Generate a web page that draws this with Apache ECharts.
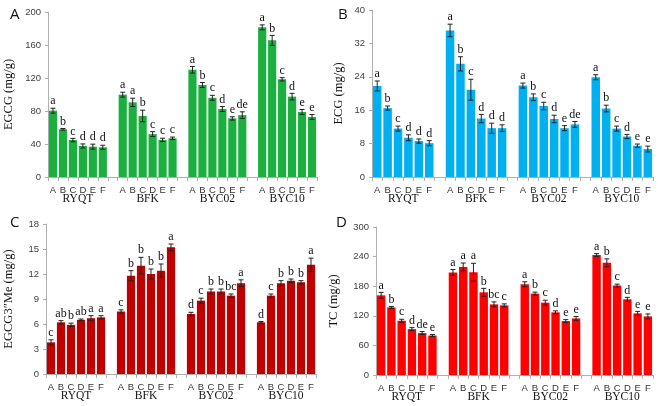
<!DOCTYPE html>
<html>
<head>
<meta charset="utf-8">
<script src="https://cdn.jsdelivr.net/npm/echarts@6/dist/echarts.min.js"></script>
<style>
html,body{margin:0;padding:0;background:#fff;}
#chart{width:658px;height:406px;}
</style>
</head>
<body>
<div id="chart"></div>
<script>
// ---- data ----
const treatments = ['A', 'B', 'C', 'D', 'E', 'F'];
const groups = ['RYQT', 'BFK', 'BYC02', 'BYC10'];

const egcgValues = [
  [80.4, 57.8, 44.8, 37.6, 36.8, 36],
  [99.8, 90.5, 74, 52, 45, 46.9],
  [130, 111.5, 96, 82.4, 71, 75],
  [181.4, 165.7, 118.4, 97.4, 78.8, 72.7]
];
const egcgErrors = [
  [3, 1, 2, 2.5, 3, 2.5],
  [3, 5, 7, 3, 2, 1.5],
  [4, 3, 3, 3, 2, 4],
  [3, 6, 2, 4, 3, 3]
];
const egcgLetters = [
  ['a', 'b', 'c', 'd', 'd', 'd'],
  ['a', 'a', 'b', 'c', 'c', 'c'],
  ['a', 'b', 'c', 'd', 'e', 'de'],
  ['a', 'b', 'c', 'd', 'e', 'e']
];

const ecgValues = [
  [21.8, 16.5, 11.6, 9.4, 8.6, 8.1],
  [35.1, 27.1, 20.9, 14, 11.7, 11.7],
  [21.9, 19.1, 17, 13.9, 11.7, 12.6],
  [23.9, 16.4, 11.6, 9.7, 7.5, 6.7]
];
const ecgErrors = [
  [1.2, 0.5, 0.6, 0.7, 0.5, 0.6],
  [1.5, 1.7, 2.5, 1.0, 1.2, 0.8],
  [0.6, 0.8, 0.9, 0.9, 0.6, 0.7],
  [0.6, 0.8, 0.6, 0.5, 0.4, 0.7]
];
const ecgLetters = [
  ['a', 'b', 'c', 'd', 'd', 'd'],
  ['a', 'b', 'c', 'd', 'd', 'd'],
  ['a', 'b', 'c', 'd', 'e', 'de'],
  ['a', 'b', 'c', 'd', 'e', 'e']
];

const meValues = [
  [3.8, 6.2, 5.9, 6.5, 6.7, 6.8],
  [7.5, 11.8, 13.0, 12.0, 12.4, 15.2],
  [7.2, 8.8, 9.9, 9.9, 9.4, 10.9],
  [6.2, 9.4, 10.9, 11.2, 11.0, 13.1]
];
const meErrors = [
  [0.3, 0.2, 0.2, 0.1, 0.3, 0.2],
  [0.2, 0.6, 1.0, 0.6, 0.8, 0.4],
  [0.2, 0.3, 0.3, 0.3, 0.2, 0.4],
  [0.1, 0.2, 0.3, 0.2, 0.2, 0.8]
];
const meLetters = [
  ['c', 'ab', 'b', 'ab', 'a', 'a'],
  ['c', 'b', 'b', 'b', 'b', 'a'],
  ['d', 'c', 'b', 'b', 'bc', 'a'],
  ['d', 'c', 'b', 'b', 'b', 'a']
];

const tcValues = [
  [161.5, 137, 110, 93, 85, 80],
  [207.7, 219, 208.4, 167.6, 143.2, 141.2],
  [184, 165, 146.6, 127, 109.3, 114.7],
  [243, 227.4, 181.2, 153.4, 124.9, 118.8]
];
const tcErrors = [
  [6, 2, 3, 3, 3, 2],
  [6, 8, 18, 8, 5, 3],
  [5, 3, 5, 3, 3, 4],
  [3, 8, 3, 4, 4, 5]
];
const tcLetters = [
  ['a', 'b', 'c', 'd', 'de', 'e'],
  ['a', 'a', 'a', 'b', 'bc', 'c'],
  ['a', 'b', 'c', 'd', 'e', 'e'],
  ['a', 'b', 'c', 'd', 'e', 'e']
];

// ---- build ----
const slotsPerGroup = 7;
const nSlots = groups.length * slotsPerGroup - 1;
const categoryData = [];
for (let g = 0; g < groups.length; g++) {
  treatments.forEach(t => categoryData.push(t));
  if (g < groups.length - 1) categoryData.push('');
}
const groupCenters = {};
groups.forEach((name, g) => { groupCenters[g * slotsPerGroup + 3] = name; });

function flatBars(values) {
  const arr = new Array(nSlots).fill('-');
  values.forEach((row, g) => row.forEach((v, i) => { arr[g * slotsPerGroup + i] = v; }));
  return arr;
}
function errData(values, errs, letters) {
  const out = [];
  values.forEach((row, g) => row.forEach((v, i) => {
    out.push([g * slotsPerGroup + i, v, errs[g][i], letters[g][i]]);
  }));
  return out;
}

const panels = [
  { letter: 'A', name: 'EGCG (mg/g)', values: egcgValues, errs: egcgErrors, letters: egcgLetters,
    color: '#1aaf3e', max: 200, interval: 40,
    grid: { left: 48, top: 12, width: 269, height: 165 }, nameGap: 33, lx: 5, ly: 2 },
  { letter: 'B', name: 'ECG (mg/g)', values: ecgValues, errs: ecgErrors, letters: ecgLetters,
    color: '#00b0f0', max: 40, interval: 8,
    grid: { left: 372, top: 10, width: 281, height: 167 }, nameGap: 27, lx: 333, ly: 2 },
  { letter: 'C', name: 'EGCG3\u2033Me (mg/g)', values: meValues, errs: meErrors, letters: meLetters,
    color: '#c00000', max: 18, interval: 3,
    grid: { left: 46, top: 224, width: 270, height: 150 }, nameGap: 31, lx: 5, ly: 210 },
  { letter: 'D', name: 'TC (mg/g)', values: tcValues, errs: tcErrors, letters: tcLetters,
    color: '#ff0000', max: 300, interval: 60,
    grid: { left: 376, top: 227, width: 277, height: 148 }, nameGap: 36, lx: 331, ly: 210 }
];

const axisGrey = '#b0b0b0';
const option = {
  animation: false,
  backgroundColor: '#fff',
  title: [], grid: [], xAxis: [], yAxis: [], series: []
};

panels.forEach((p, k) => {
  option.title.push({
    text: p.letter, left: p.lx, top: p.ly,
    textStyle: { fontFamily: 'Open Sans', fontSize: 15, fontWeight: 'normal', color: '#111' }
  });
  option.grid.push(p.grid);
  option.xAxis.push({
    type: 'category', gridIndex: k, data: categoryData, position: 'bottom',
    axisLine: { lineStyle: { color: axisGrey } },
    axisTick: { show: true, interval: 0, length: 4, lineStyle: { color: axisGrey } },
    axisLabel: { interval: 0, margin: 8, fontFamily: 'Liberation Sans', fontSize: 9.5, color: '#333' },
    splitLine: { show: false }
  });
  option.xAxis.push({
    type: 'value', gridIndex: k, min: 0, max: nSlots, interval: 1, position: 'bottom',
    axisLine: { show: false }, axisTick: { show: false }, splitLine: { show: false },
    axisLabel: {
      margin: 16, fontFamily: 'Liberation Serif', fontSize: 11.5, color: '#111',
      showMinLabel: true, showMaxLabel: true,
      formatter: v => groupCenters[v] || ''
    }
  });
  option.yAxis.push({
    type: 'value', gridIndex: k, min: 0, max: p.max, interval: p.interval,
    name: p.name, nameLocation: 'middle', nameGap: p.nameGap,
    nameTextStyle: { fontFamily: 'Liberation Serif', fontSize: 12.5, color: '#111' },
    axisLine: { show: true, lineStyle: { color: axisGrey } },
    axisTick: { show: true, length: 3, lineStyle: { color: axisGrey } },
    axisLabel: { margin: 7, fontFamily: 'Liberation Sans', fontSize: 9.5, color: '#404040' },
    splitLine: { show: false }
  });
  option.series.push({
    type: 'bar', xAxisIndex: 2 * k, yAxisIndex: k,
    data: flatBars(p.values), barCategoryGap: '18%',
    itemStyle: { color: p.color }
  });
  option.series.push({
    type: 'custom', xAxisIndex: 2 * k, yAxisIndex: k,
    data: errData(p.values, p.errs, p.letters),
    z: 5,
    renderItem: function (params, api) {
      const x = api.value(0), v = api.value(1), e = api.value(2);
      const item = params.context ? null : null;
      const top = api.coord([x, v + e]);
      const bot = api.coord([x, v - e]);
      const hw = 2.5;
      const letter = p.letters[Math.floor(x / slotsPerGroup)][x % slotsPerGroup];
      return {
        type: 'group',
        children: [
          { type: 'line', shape: { x1: top[0], y1: top[1], x2: bot[0], y2: bot[1] }, style: { stroke: '#222', lineWidth: 1 } },
          { type: 'line', shape: { x1: top[0] - hw, y1: top[1], x2: top[0] + hw, y2: top[1] }, style: { stroke: '#222', lineWidth: 1 } },
          { type: 'line', shape: { x1: bot[0] - hw, y1: bot[1], x2: bot[0] + hw, y2: bot[1] }, style: { stroke: '#222', lineWidth: 1 } },
          { type: 'text', x: top[0], y: top[1] - 1,
            style: { text: letter, fontFamily: 'Liberation Serif', fontSize: 12, fill: '#111',
              align: 'center', verticalAlign: 'bottom' } }
        ]
      };
    }
  });
});

const chart = echarts.init(document.getElementById('chart'), null, { renderer: 'canvas' });
chart.setOption(option);
</script>
</body>
</html>
